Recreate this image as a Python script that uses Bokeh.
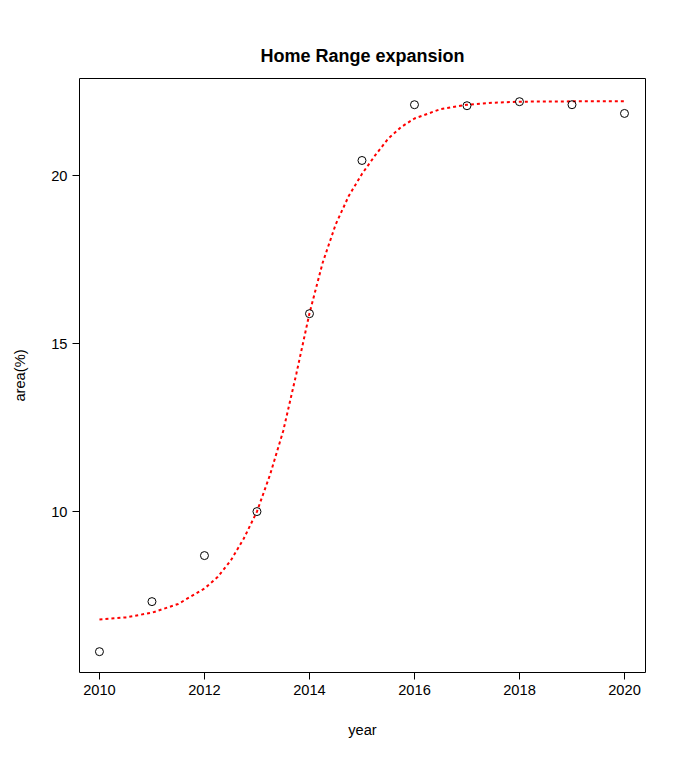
from bokeh.plotting import figure
from bokeh.models import FixedTicker, Range1d
from bokeh.embed import file_html
from bokeh.resources import INLINE

years = [2010, 2011, 2012, 2013, 2014, 2015, 2016, 2017, 2018, 2019, 2020]
area = [5.83, 7.32, 8.69, 10.0, 15.89, 20.45, 22.11, 22.08, 22.2, 22.11, 21.85]

# fitted curve
fit_x = [2010, 2010.5, 2011, 2011.5, 2012, 2012.25, 2012.5, 2012.75, 2013, 2013.25, 2013.5,
         2013.75, 2014, 2014.25, 2014.5, 2014.75, 2015, 2015.25, 2015.5, 2015.75, 2016,
         2016.5, 2017, 2017.5, 2018, 2019, 2020]
fit_y = [6.79, 6.85, 6.99, 7.25, 7.71, 8.05, 8.54, 9.2, 10.0, 11.1, 12.4,
         14.1, 15.9, 17.4, 18.55, 19.4, 20.05, 20.6, 21.1, 21.45, 21.7,
         21.98, 22.11, 22.17, 22.2, 22.21, 22.21]

FONT = "Liberation Sans"

p = figure(width=670, height=755, output_backend="svg", toolbar_location=None,
           x_range=Range1d(2009.62, 2020.4), y_range=Range1d(5.21, 22.89),
           min_border_left=79, min_border_top=78, min_border_right=25, min_border_bottom=83,
           title="Home Range expansion")
p.title.align = "center"
p.title.text_font = FONT
p.title.text_font_size = "13.5pt"
p.title.text_font_style = "bold"
p.title.text_color = "black"
p.title.offset = 0
p.title.standoff = 26
p.grid.visible = False
p.outline_line_color = "black"
p.background_fill_color = "white"
p.border_fill_color = "white"

p.xaxis.ticker = FixedTicker(ticks=[2010, 2012, 2014, 2016, 2018, 2020])
p.yaxis.ticker = FixedTicker(ticks=[10, 15, 20])
p.xaxis.axis_label = "year"
p.yaxis.axis_label = "area(%)"
p.xaxis.bounds = (2010, 2020)
p.yaxis.bounds = (10, 20)
for ax in (p.xaxis, p.yaxis):
    ax.axis_label_text_font = FONT
    ax.axis_label_text_font_style = "normal"
    ax.axis_label_text_font_size = "11pt"
    ax.axis_label_text_color = "black"
    ax.major_label_text_font = FONT
    ax.major_label_text_font_size = "11pt"
    ax.major_label_text_color = "black"
    ax.minor_tick_line_color = None
    ax.major_tick_out = 7
    ax.major_tick_in = 0
    ax.axis_line_color = "black"
    ax.major_tick_line_color = "black"
p.xaxis.axis_label_standoff = 24
p.yaxis.axis_label_standoff = 20

p.line(fit_x, fit_y, line_color="red", line_width=2, line_dash="3 3")
p.scatter(years, area, size=8, marker="circle", fill_color=None, line_color="black")

open("out.html", "w").write(file_html(p, INLINE))
